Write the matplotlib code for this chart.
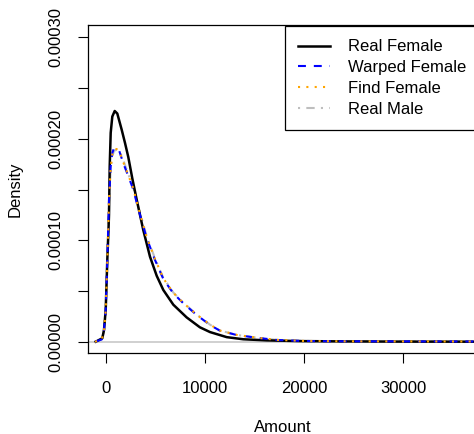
import matplotlib

matplotlib.use("Agg")
import matplotlib.pyplot as plt

plt.rcParams["font.family"] = ["Liberation Sans", "DejaVu Sans"]
plt.rcParams["font.size"] = 12

# Curvas de densidad (Amount, Density)
real_female_x = [-1040, -374, -202, -30, 131, 232, 303, 374, 475, 636, 879, 1141,
                 1586, 1919, 2253, 2657, 3101, 3768, 4444, 5121, 5788, 6798, 8141,
                 9484, 10505, 12192, 13869, 16232, 19596, 24000, 30000, 38500]
real_female_y = [0.0, 0.0000034, 0.0000115, 0.0000313, 0.0000806, 0.000105, 0.000125,
                 0.000173, 0.000206, 0.000222, 0.0002275, 0.000225, 0.000209,
                 0.000196, 0.000182, 0.000161, 0.000140, 0.000110, 0.0000838,
                 0.0000650, 0.0000510, 0.0000365, 0.0000240, 0.0000142, 0.0000095,
                 0.0000045, 0.0000024, 0.0000013, 0.0000006, 0.0000003, 0.0000001, 0.0]

warped_female_x = [-1111, -434, -202, -30, 131, 232, 303, 475, 636, 808, 1060, 1343,
                   1747, 2222, 2758, 3263, 4111, 4949, 5788, 6798, 7808, 9162, 10505,
                   11515, 13202, 15222, 17242, 19899, 23600, 30000, 38500]
warped_female_y = [0.0, 0.0000022, 0.0000115, 0.0000313, 0.0000806, 0.000115, 0.000140,
                   0.000173, 0.000186, 0.000191, 0.0001905, 0.000188, 0.000176,
                   0.000164, 0.000150, 0.000131, 0.000102, 0.0000806, 0.0000618,
                   0.0000477, 0.0000379, 0.0000263, 0.0000165, 0.0000108, 0.0000066,
                   0.0000039, 0.0000017, 0.0000007, 0.0000004, 0.0000003, 0.0000002]

find_female_x = [-1111, -434, -202, -30, 131, 232, 303, 475, 636, 808, 1060, 1343,
                 1747, 2222, 2758, 3263, 4111, 4949, 5788, 6798, 7808, 9162, 10505,
                 11515, 13202, 15222, 17242, 19899, 23600, 30000, 38500]
find_female_y = [0.0, 0.0000020, 0.0000110, 0.0000305, 0.0000795, 0.000114, 0.000139,
                 0.000172, 0.000185, 0.000190, 0.0001900, 0.000188, 0.000177,
                 0.000165, 0.000151, 0.000132, 0.000103, 0.0000815, 0.0000625,
                 0.0000482, 0.0000383, 0.0000266, 0.0000168, 0.0000110, 0.0000067,
                 0.0000040, 0.0000018, 0.0000008, 0.0000004, 0.0000003, 0.0000002]

real_male_x = [-1111, -434, -202, -30, 131, 232, 303, 475, 636, 808, 1060, 1343,
               1747, 2222, 2758, 3263, 4111, 4949, 5788, 6798, 7808, 9162, 10505,
               11515, 13202, 15222, 17242, 19899, 23600, 30000, 38500]
real_male_y = [0.0, 0.0000020, 0.0000105, 0.0000300, 0.0000790, 0.000112, 0.000137,
               0.000170, 0.000183, 0.000188, 0.0001895, 0.000189, 0.000179,
               0.000166, 0.000152, 0.000133, 0.000104, 0.0000820, 0.0000630,
               0.0000485, 0.0000385, 0.0000268, 0.0000168, 0.0000110, 0.0000067,
               0.0000040, 0.0000018, 0.0000008, 0.0000004, 0.0000003, 0.0000002]

x_ticks = [0, 10000, 20000, 30000]
y_ticks = [0.0, 0.00005, 0.0001, 0.00015, 0.0002, 0.00025, 0.0003]
y_tick_labels = ["0.00000", "", "0.00010", "", "0.00020", "", "0.00030"]

fig = plt.figure(figsize=(4.74, 4.34), dpi=100)
ax = fig.add_axes([88 / 474, 1 - 353 / 434, 0.8359, (353 - 25) / 434])

ax.axhline(0, color="#d0d0d0", linewidth=1.4, zorder=1)
ax.plot(real_male_x, real_male_y, color="#bebebe", linewidth=1.5,
        linestyle=(0, (1, 3, 4, 3)), label="Real Male", zorder=2)
ax.plot(real_female_x, real_female_y, color="black", linewidth=1.8,
        label="Real Female", zorder=3, solid_joinstyle="round")
ax.plot(warped_female_x, warped_female_y, color="blue", linewidth=1.5,
        linestyle=(0, (3.8, 3.8)), label="Warped Female", zorder=4)
ax.plot(find_female_x, find_female_y, color="orange", linewidth=1.5,
        linestyle=(0, (1, 3)), label="Find Female", zorder=5)

ax.set_xlim(-1818, 38200)
ax.set_ylim(-0.00001114, 0.0003123)
ax.set_xticks(x_ticks)
ax.set_xticklabels([str(v) for v in x_ticks])
ax.set_yticks(y_ticks)
ax.set_yticklabels(y_tick_labels, rotation=90, va="center")
ax.tick_params(axis="both", direction="out", length=7, width=0.8, labelsize=12)
ax.tick_params(axis="x", pad=13)
ax.tick_params(axis="y", pad=11)
for s in ax.spines.values():
    s.set_linewidth(0.9)

# orden de la leyenda como en el original
handles, labels = ax.get_legend_handles_labels()
orden = ["Real Female", "Warped Female", "Find Female", "Real Male"]
handles = [handles[labels.index(n)] for n in orden]
leg = ax.legend(handles, orden, loc="upper left",
                bbox_to_anchor=(285 / 474, 1 - 26 / 434),
                bbox_transform=fig.transFigure, borderaxespad=0, frameon=True,
                fancybox=False, edgecolor="black", framealpha=1,
                handlelength=1.92, handletextpad=1.05, labelspacing=0.35,
                borderpad=0.8, fontsize=12)
leg.get_frame().set_linewidth(0.9)

fig.text(283 / 474, 1 - 427 / 434, "Amount", ha="center", va="center")
fig.text(15 / 474, 1 - 189 / 434, "Density", ha="center", va="center", rotation=90)

fig.savefig("out.png", dpi=100)
